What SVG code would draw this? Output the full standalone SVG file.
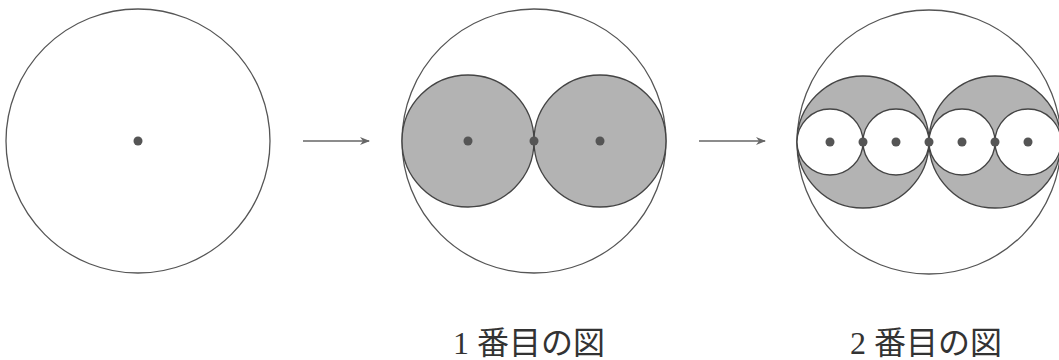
<svg xmlns="http://www.w3.org/2000/svg" width="1059" height="360" viewBox="0 0 1059 360">
<style>
.c{fill:none;stroke:#555;stroke-width:1.3}
.g{fill:#b3b3b3;stroke:#444;stroke-width:1.3}
.w{fill:#fff;stroke:#444;stroke-width:1.3}
.d{fill:#555}
.a{stroke:#666;stroke-width:1.3;fill:none}
.t{font-family:"Liberation Serif","Noto Sans CJK JP",serif;font-size:32px;fill:#333}
</style>
<defs>
<marker id="ah" markerWidth="10" markerHeight="8" refX="9" refY="4" orient="auto" markerUnits="userSpaceOnUse">
<path d="M0,0 L10,4 L0,8 L3,4 Z" fill="#666"/>
</marker>
</defs>
<rect width="1059" height="360" fill="#fff"/>
<g id="fig0">
<circle class="c" cx="138" cy="141" r="132"/>
<circle class="d" cx="138" cy="141" r="4.5"/>
</g>
<g id="fig1">
<circle class="c" cx="534" cy="141" r="132"/>
<circle class="g" cx="468" cy="141" r="66"/>
<circle class="g" cx="600" cy="141" r="66"/>
<circle class="d" cx="468" cy="141" r="4.5"/>
<circle class="d" cx="534" cy="141" r="4.5"/>
<circle class="d" cx="600" cy="141" r="4.5"/>
</g>
<g id="fig2">
<circle class="c" cx="929" cy="142" r="132"/>
<circle class="g" cx="863" cy="142" r="66"/>
<circle class="g" cx="995" cy="142" r="66"/>
<circle class="w" cx="830" cy="142" r="33"/>
<circle class="w" cx="896" cy="142" r="33"/>
<circle class="w" cx="962" cy="142" r="33"/>
<circle class="w" cx="1028" cy="142" r="33"/>
<circle class="d" cx="830" cy="142" r="4.5"/>
<circle class="d" cx="863" cy="142" r="4.5"/>
<circle class="d" cx="896" cy="142" r="4.5"/>
<circle class="d" cx="929" cy="142" r="4.5"/>
<circle class="d" cx="962" cy="142" r="4.5"/>
<circle class="d" cx="995" cy="142" r="4.5"/>
<circle class="d" cx="1028" cy="142" r="4.5"/>
</g>
<g id="connectors">
<line class="a" x1="303" y1="141" x2="369" y2="141" marker-end="url(#ah)"/>
<line class="a" x1="699" y1="141" x2="765" y2="141" marker-end="url(#ah)"/>
</g>
<g id="labels">
<text class="t" x="453" y="354">1 番目の図</text>
<text class="t" x="850" y="354">2 番目の図</text>
</g>
</svg>
